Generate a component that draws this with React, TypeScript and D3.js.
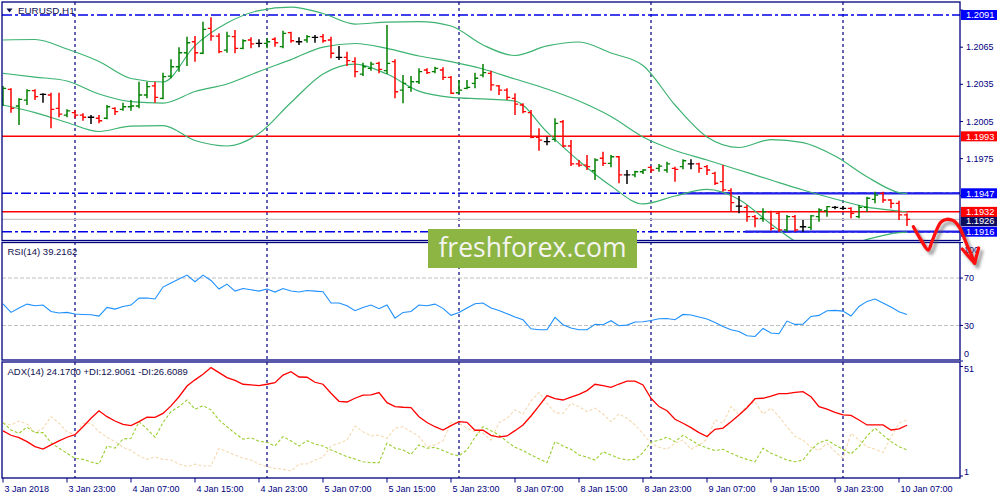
import React from 'react';
import * as d3 from 'd3';

// EURUSD H1 bars, 3 Jan 15:00 .. 10 Jan 08:00 (114 bars)
const opens = [
  1.20223, 1.2031, 1.20175, 1.20223, 1.20299, 1.20269, 1.20264, 1.20156, 1.20102, 1.20121,
  1.20102, 1.20084, 1.20076, 1.20076, 1.20156, 1.20148, 1.20169, 1.20175, 1.20264, 1.20337,
  1.20237, 1.20417, 1.20492, 1.20605, 1.20694, 1.20601, 1.20802, 1.2074, 1.20627, 1.20735,
  1.20641, 1.20708, 1.20681, 1.20681, 1.20714, 1.20654, 1.20767, 1.20694, 1.20708, 1.2073,
  1.20735, 1.20708, 1.20568, 1.20568, 1.20533, 1.20433, 1.20479, 1.2052, 1.2046, 1.20533,
  1.20304, 1.20326, 1.20371, 1.20466, 1.20452, 1.20466, 1.20407, 1.20282, 1.20318, 1.20358,
  1.20425, 1.20439, 1.20337, 1.20304, 1.20237, 1.20183, 1.20121, 1.19922, 1.19887, 1.19906,
  1.20048, 1.19852, 1.19707, 1.19698, 1.19652, 1.19753, 1.19712, 1.19765, 1.19618, 1.19618,
  1.19644, 1.1968, 1.19672, 1.19658, 1.19672, 1.19685, 1.19707, 1.19707, 1.19685, 1.19631,
  1.19564, 1.19491, 1.19367, 1.19357, 1.19281, 1.19268, 1.19321, 1.19308, 1.19174, 1.19281,
  1.192, 1.19195, 1.19281, 1.19329, 1.19357, 1.19349, 1.19349, 1.19281, 1.19357, 1.19421,
  1.1947, 1.19416, 1.19389, 1.19295,
];
const highs = [
  1.20337, 1.20318, 1.20237, 1.2031, 1.2031, 1.20278, 1.20282, 1.20282, 1.20148, 1.20143,
  1.20116, 1.20102, 1.20102, 1.20183, 1.20164, 1.20202, 1.20223, 1.20371, 1.20371, 1.20371,
  1.20444, 1.20552, 1.20649, 1.20735, 1.2074, 1.20856, 1.20891, 1.20762, 1.20775, 1.20789,
  1.20714, 1.2073, 1.20714, 1.20722, 1.2073, 1.20783, 1.20775, 1.2073, 1.20748, 1.20748,
  1.20756, 1.20735, 1.2066, 1.20614, 1.20568, 1.20525, 1.20533, 1.20533, 1.20829, 1.20552,
  1.20425, 1.20417, 1.20479, 1.20479, 1.20492, 1.20488, 1.20417, 1.20385, 1.20385, 1.20444,
  1.20514, 1.2046, 1.20345, 1.20318, 1.20278, 1.20197, 1.20143, 1.19995, 1.19927, 1.20076,
  1.20062, 1.199, 1.19739, 1.19779, 1.19753, 1.19806, 1.19779, 1.19771, 1.19658, 1.19652,
  1.19664, 1.1969, 1.19707, 1.19725, 1.19685, 1.19744, 1.19744, 1.19717, 1.19698, 1.19644,
  1.19698, 1.1951, 1.19448, 1.19375, 1.19295, 1.19349, 1.19329, 1.19321, 1.19295, 1.19295,
  1.19254, 1.19295, 1.19349, 1.19367, 1.19367, 1.19367, 1.19357, 1.19375, 1.19443, 1.19483,
  1.19483, 1.19421, 1.1941, 1.19308,
];
const lows = [
  1.20175, 1.20121, 1.20022, 1.20183, 1.20223, 1.20202, 1.19995, 1.20084, 1.20084, 1.20076,
  1.20056, 1.2003, 1.20035, 1.20068, 1.20102, 1.20137, 1.20137, 1.20156, 1.20237, 1.20202,
  1.20229, 1.20399, 1.20452, 1.20498, 1.20533, 1.20595, 1.20702, 1.20601, 1.20605, 1.20601,
  1.20633, 1.20641, 1.20649, 1.20641, 1.20654, 1.20641, 1.20686, 1.20668, 1.20686, 1.20686,
  1.20686, 1.2056, 1.20546, 1.20498, 1.20407, 1.20417, 1.2046, 1.20439, 1.20433, 1.20237,
  1.20197, 1.2029, 1.20353, 1.20433, 1.20439, 1.20385, 1.20272, 1.20272, 1.2031, 1.20318,
  1.20407, 1.20299, 1.20264, 1.20223, 1.20102, 1.20116, 1.19914, 1.19814, 1.19858, 1.19887,
  1.19841, 1.1969, 1.19685, 1.19658, 1.19577, 1.1969, 1.1968, 1.19551, 1.19545, 1.19599,
  1.19626, 1.19636, 1.19644, 1.19636, 1.19564, 1.19664, 1.19664, 1.19636, 1.19618, 1.19537,
  1.19483, 1.19321, 1.19308, 1.19241, 1.19195, 1.19241, 1.19168, 1.1916, 1.1916, 1.1916,
  1.1916, 1.19174, 1.19241, 1.19281, 1.19341, 1.19335, 1.19268, 1.19268, 1.19321, 1.19389,
  1.19394, 1.19349, 1.19254, 1.19206,
];
const closes = [
  1.20318, 1.20156, 1.20229, 1.20299, 1.2025, 1.20269, 1.20148, 1.2011, 1.20135, 1.20102,
  1.20084, 1.20084, 1.20056, 1.20169, 1.20129, 1.20169, 1.20175, 1.20264, 1.20331, 1.20245,
  1.20412, 1.20492, 1.20605, 1.20686, 1.20605, 1.20794, 1.2074, 1.20614, 1.2074, 1.20641,
  1.20702, 1.20676, 1.20681, 1.20694, 1.20686, 1.20762, 1.20702, 1.20694, 1.20735, 1.2073,
  1.20702, 1.20601, 1.20568, 1.20541, 1.20452, 1.20492, 1.20514, 1.20471, 1.2052, 1.2029,
  1.20358, 1.20371, 1.20452, 1.20444, 1.20479, 1.20407, 1.20278, 1.20304, 1.20326, 1.20399,
  1.20444, 1.20345, 1.20304, 1.20245, 1.20191, 1.20129, 1.19922, 1.199, 1.19887, 1.20035,
  1.19852, 1.19707, 1.19698, 1.19685, 1.19739, 1.19712, 1.19765, 1.19618, 1.19618, 1.19644,
  1.19658, 1.19658, 1.1969, 1.19707, 1.19664, 1.19733, 1.19707, 1.19672, 1.19658, 1.19551,
  1.19497, 1.19394, 1.19367, 1.19281, 1.19268, 1.19321, 1.19187, 1.19174, 1.19281, 1.19174,
  1.192, 1.19287, 1.19335, 1.19362, 1.19357, 1.19349, 1.19308, 1.19357, 1.1943, 1.19456,
  1.19416, 1.19389, 1.19295, 1.1926,
];

// Bollinger bands, read every 4 bars
const bandIdx = [0, 4, 8, 12, 16, 20, 24, 28, 32, 36, 40, 44, 48, 52, 56, 60, 64, 68, 72, 76, 80, 84, 88, 92, 96, 100, 104, 108, 112, 113];
const upperBand = [
  1.20708, 1.20712, 1.20635, 1.20534, 1.20397, 1.20369, 1.20663, 1.20845, 1.20946, 1.20974,
  1.20922, 1.20837, 1.20853, 1.20857, 1.20821, 1.20668, 1.20583, 1.2066, 1.20692, 1.20603,
  1.20502, 1.20183, 1.19925, 1.1984, 1.19904, 1.19879, 1.19771, 1.19604, 1.19476, 1.19468,
];
const middleBand = [
  1.20439, 1.20409, 1.20377, 1.20272, 1.20211, 1.20199, 1.20292, 1.20353, 1.20454, 1.2055,
  1.20651, 1.2068, 1.20641, 1.20579, 1.20534, 1.20474, 1.20393, 1.20312, 1.20215, 1.2009,
  1.19925, 1.19816, 1.19739, 1.19658, 1.19577, 1.19497, 1.19424, 1.19359, 1.19327, 1.19319,
];
const lowerBand = [
  1.20183, 1.20122, 1.20042, 1.19969, 1.20013, 1.20016, 1.19896, 1.19852, 1.19953, 1.20203,
  1.20433, 1.20513, 1.20433, 1.20295, 1.20245, 1.20232, 1.20215, 1.19965, 1.19731, 1.19529,
  1.19384, 1.19448, 1.19501, 1.1942, 1.19222, 1.19052, 1.19012, 1.19098, 1.19153, 1.19157,
];

const rsi = [
  48.3, 41, 44.7, 48, 46.6, 47.2, 41.8, 40.5, 41, 39.6,
  39.3, 39, 37.9, 45.2, 43.8, 46, 47.2, 53.1, 53.1, 52.3,
  62.4, 65.8, 69.2, 72.5, 66.9, 72.5, 68, 60.7, 64.9, 59,
  61.2, 60.1, 59, 60.7, 58.2, 61.2, 59, 58.2, 59.5, 59,
  58.4, 48.9, 48.9, 46.6, 42.4, 45.2, 47.2, 44.1, 47.2, 36.2,
  41, 41.8, 47.2, 46.6, 48, 44.4, 38.5, 41, 44.7, 48.3,
  48.9, 44.7, 42.7, 39.9, 37.1, 34.8, 27.2, 26.4, 26.4, 36.8,
  30.6, 27.8, 26.4, 26.4, 30.9, 30.6, 34, 29.7, 30.3, 32.9,
  33.1, 34.2, 35.7, 35.9, 34.8, 39.3, 38.8, 37.1, 35.4, 32.5,
  29.2, 26.4, 24.9, 21.3, 20.7, 27.5, 23.6, 23, 33.7, 30.9,
  31.1, 37.6, 38.5, 42.4, 42.7, 42.1, 37.9, 46, 50.3, 52.3,
  48.9, 45.5, 41.6, 39.2,
];

const adx = [
  21.6, 19.6, 18.5, 16.7, 14.4, 13.3, 15.2, 17, 18.7, 19.9,
  23.5, 27.4, 30.8, 28.1, 26.1, 24.6, 24, 25.8, 27.9, 27.8,
  29.6, 33, 37.2, 42.1, 44.9, 47.5, 50.5, 48.2, 45.9, 44.7,
  42.9, 42.6, 42.3, 42.9, 43.6, 47.1, 48.6, 46.2, 46.1, 43.8,
  42.9, 38.8, 35.1, 34.8, 36.5, 37.9, 38, 39.1, 34.5, 32.7,
  32.4, 32.2, 28.1, 25.4, 23.5, 22, 24, 25.8, 25.5, 21.9,
  21.9, 19.6, 18.8, 19.3, 21.7, 24.3, 28.4, 33, 37.7, 36.3,
  35.7, 37, 38.3, 40, 42.9, 42.3, 41.5, 43, 44.3, 44.3,
  42.6, 36.5, 32.7, 30.8, 26.9, 25.1, 23.1, 20.8, 19, 22.3,
  22.9, 25.8, 28.9, 32.2, 36.3, 36.5, 37.5, 38.6, 38.6, 39.2,
  39.5, 37.2, 32.7, 31.5, 30.1, 28.9, 28.7, 26.6, 24.3, 24.3,
  24.3, 22, 22.5, 24.17,
];
const plusDi = [
  25.4, 22, 20.5, 23.3, 20.8, 20.8, 16.2, 13.7, 11.4, 9.1,
  8.6, 7.4, 6.5, 14.7, 13.7, 17.9, 18.2, 25.8, 22.5, 18.7,
  25.4, 30.4, 32.7, 35.7, 31.5, 33.1, 31.2, 26.6, 23.5, 20.5,
  17.8, 18.5, 16.9, 16.4, 14.7, 19, 17, 14.7, 17.1, 15.6,
  14.7, 12.9, 11.4, 9.8, 8.8, 7.5, 7.1, 7.1, 16, 13.7,
  12.9, 10.9, 15.2, 13.7, 14.1, 12.6, 11.1, 10.2, 12.9, 18.7,
  23.5, 21.7, 19.7, 16.7, 14.1, 12.6, 10.6, 8.9, 7.1, 16.7,
  14.7, 13.2, 10.6, 9.6, 8.3, 12.1, 10.6, 9.1, 8.3, 8.6,
  11.7, 16.5, 17.4, 18.7, 16.7, 19.6, 17.4, 15.2, 13.8, 12.6,
  13.2, 11.4, 9.8, 8.6, 7.5, 13.7, 11.4, 9.8, 8.3, 7.5,
  8.3, 12.9, 16.2, 17.4, 15.2, 13.2, 11.1, 14.4, 19.3, 22.8,
  19.7, 16.7, 14.4, 12.9,
];
const minusDi = [
  25.1, 24.3, 26.1, 24.8, 20.8, 22.8, 28.1, 25.1, 21.2, 19.7,
  25.1, 25.1, 21.2, 18.7, 16.7, 14.1, 12.6, 10.2, 8.6, 9.8,
  8.6, 8.3, 6.5, 5.3, 6.4, 5.6, 5.6, 13.7, 12.1, 10.6,
  9.1, 8.3, 6.5, 5.3, 4.5, 4.1, 3.3, 6.4, 6.5, 8.3,
  9.6, 14.7, 16, 17.4, 23.8, 21.2, 19.3, 19.7, 18.2, 22.8,
  23.5, 21.2, 19, 14.4, 15.2, 17.1, 25.5, 25.1, 22.8, 21.2,
  20.5, 17.4, 25.4, 27.4, 31.2, 29.3, 35.3, 39.2, 34.2, 29.9,
  29.6, 34.2, 32.7, 30.4, 32, 29.3, 25.8, 29.3, 27.4, 24.3,
  20.2, 16, 14.1, 13.2, 16, 17.4, 13.2, 15.2, 17.8, 26.6,
  25.1, 32.7, 28.9, 33, 34.9, 29.3, 32, 28.1, 23.5, 19,
  17.4, 14.1, 12.6, 16, 12.1, 9.1, 20.5, 17.4, 14.4, 13.2,
  11.7, 18.7, 25.1, 26.6,
];

const timeLabelIdx = [0, 8, 16, 24, 32, 40, 48, 56, 64, 72, 80, 88, 96, 104, 112];
const timeLabels = [
  '3 Jan 2018', '3 Jan 23:00', '4 Jan 07:00', '4 Jan 15:00', '4 Jan 23:00',
  '5 Jan 07:00', '5 Jan 15:00', '5 Jan 23:00', '8 Jan 07:00', '8 Jan 15:00',
  '8 Jan 23:00', '9 Jan 07:00', '9 Jan 15:00', '9 Jan 23:00', '10 Jan 07:00',
];
const daySeparators = [9, 33, 57, 81, 105];

const priceTicks = [1.2095, 1.2065, 1.2035, 1.2005, 1.1975, 1.1945, 1.1915];
const rsiTicks = [100, 70, 30, 0];
const rsiLevels = [70, 30];
const adxTicks = [51, 1];

const blueLevels = [1.2091, 1.1947, 1.1916];
const redLevels = [1.1993, 1.1932];
const bidPrice = 1.1926;
const zonePrices = [1.1947, 1.1916];
const zoneStart = [84.4, 92.75];

// hand drawn forecast arrow, [bar index, price]
const arrowPath: [number, number][] = [
  [113.8, 1.192], [114.75, 1.19093], [115.66, 1.19012], [116.1, 1.19077], [116.7, 1.19174],
  [117.25, 1.19238], [117.96, 1.1926], [118.6, 1.19254], [119, 1.19241], [119.6, 1.1919],
  [120, 1.19133], [120.5, 1.19052], [120.9, 1.18996], [121.45, 1.18905],
];
const arrowHead: [number, number][] = [[119.9, 1.1902], [121.45, 1.18905], [121.95, 1.19028]];

const W = 1000;
const H = 500;
const L = 2;
const R = 960;
const mainPane = { top: 2, bottom: 240.5 };
const rsiPane = { top: 242.5, bottom: 360 };
const adxPane = { top: 362, bottom: 478 };

const x = d3.scaleLinear().domain([0, 113]).range([3, 907]);
const yPrice = d3.scaleLinear().domain([1.2091, 1.1947]).range([15, 193.3]);
const yRsi = d3.scaleLinear().domain([0, 100]).range([361, 242.5]);
const yAdx = d3.scaleLinear().domain([1, 51]).range([476, 366.5]);

const NAVY = '#000080';
const AXIS_FONT = '"Liberation Sans", Arial, sans-serif';

function clampLabel(y: number, pane: { top: number; bottom: number }) {
  return Math.max(pane.top + 7, Math.min(pane.bottom - 6, y));
}

export default function App() {
  const bandLine = (vals: number[]) =>
    d3
      .line<number>()
      .x((_, k) => x(bandIdx[k]))
      .y((d) => yPrice(d))
      .curve(d3.curveMonotoneX)(vals) ?? '';
  const rsiPath = d3.line<number>().x((_, i) => x(i)).y((d) => yRsi(d))(rsi) ?? '';
  const adxLine = (vals: number[]) =>
    d3.line<number>().x((_, i) => x(i)).y((d) => yAdx(d))(vals) ?? '';
  const arrowLine = d3
    .line<[number, number]>()
    .x((d) => x(d[0]))
    .y((d) => yPrice(d[1]))
    .curve(d3.curveCatmullRom.alpha(0.5));
  const headLine = d3
    .line<[number, number]>()
    .x((d) => x(d[0]))
    .y((d) => yPrice(d[1]));

  const levelBoxes = [
    { price: 1.2091, fill: '#0000ff', dy: 0 },
    { price: 1.1993, fill: '#ff0000', dy: 0 },
    { price: 1.1947, fill: '#0000ff', dy: 0 },
    { price: bidPrice, fill: '#0c0c5c', dy: 1.8 },
    { price: 1.1932, fill: '#ff0000', dy: 0 },
    { price: 1.1916, fill: '#0000ff', dy: 0 },
  ];
  // scale labels hidden under a highlighted level box are not drawn (as in the terminal)
  const priceLabels = priceTicks
    .map((p) => ({ p, y: Math.max(yPrice(p), 6) }))
    .filter((t) => levelBoxes.every((b) => Math.abs(yPrice(b.price) - t.y) > 7));

  return (
    <svg
      width={W}
      height={H}
      viewBox={`0 0 ${W} ${H}`}
      style={{ position: 'fixed', left: 0, top: 0, background: '#fff' }}
    >
      <defs>
        <clipPath id="clipMain">
          <rect x={L} y={mainPane.top} width={R - L} height={mainPane.bottom - mainPane.top} />
        </clipPath>
        <clipPath id="clipRsi">
          <rect x={L} y={rsiPane.top} width={R - L} height={rsiPane.bottom - rsiPane.top} />
        </clipPath>
        <clipPath id="clipAdx">
          <rect x={L} y={adxPane.top} width={R - L} height={adxPane.bottom - adxPane.top} />
        </clipPath>
        <filter id="soft" x="-20%" y="-50%" width="140%" height="200%">
          <feGaussianBlur stdDeviation="1.4" />
        </filter>
      </defs>
      <rect width={W} height={H} fill="#fff" />

      {/* day separators */}
      {daySeparators.map((d) => (
        <line
          key={d}
          x1={x(d)}
          x2={x(d)}
          y1={mainPane.top}
          y2={adxPane.bottom}
          stroke={NAVY}
          strokeWidth={1.2}
          strokeDasharray="3,3"
        />
      ))}

      {/* main pane */}
      <g clipPath="url(#clipMain)">
        <line x1={L} x2={R} y1={yPrice(bidPrice)} y2={yPrice(bidPrice)} stroke="#c8c8c8" strokeWidth={1.2} />
        {redLevels.map((p) => (
          <line key={p} x1={L} x2={R} y1={yPrice(p)} y2={yPrice(p)} stroke="#ff0000" strokeWidth={1.5} />
        ))}
        {blueLevels.map((p) => (
          <line
            key={p}
            x1={L}
            x2={R}
            y1={yPrice(p)}
            y2={yPrice(p)}
            stroke="#0000e6"
            strokeWidth={1.5}
            strokeDasharray="10,3,3,3"
          />
        ))}
        {zonePrices.map((p, k) => (
          <g key={p}>
            <line
              x1={x(zoneStart[k])}
              x2={R}
              y1={yPrice(p) + 3}
              y2={yPrice(p) + 3}
              stroke="#9a9aa8"
              strokeWidth={3}
              filter="url(#soft)"
              opacity={0.8}
            />
            <line x1={x(zoneStart[k])} x2={R} y1={yPrice(p)} y2={yPrice(p)} stroke="#1f1fe8" strokeWidth={2.2} />
          </g>
        ))}
        {[upperBand, middleBand, lowerBand].map((b, k) => (
          <path key={k} d={bandLine(b)} fill="none" stroke="#3cb371" strokeWidth={1.2} />
        ))}
        {closes.map((c, i) => {
          const o = opens[i];
          const color = c > o ? '#008000' : c < o ? '#ff0000' : '#000000';
          const xi = x(i);
          return (
            <g key={i} stroke={color} fill="none">
              <path d={`M${xi},${yPrice(highs[i])}V${yPrice(lows[i])}`} strokeWidth={1.5} />
              <path d={`M${xi - 3.2},${yPrice(o)}H${xi}M${xi},${yPrice(c)}H${xi + 3.2}`} strokeWidth={1.3} />
            </g>
          );
        })}
      </g>
      <polygon points="6.5,8.5 12.5,8.5 9.5,12.5" fill="#101050" />
      <text x={18} y={14.2} fontFamily={AXIS_FONT} fontSize={9.8} fill="#101050">
        EURUSD,H1
      </text>

      {/* RSI pane */}
      <g clipPath="url(#clipRsi)">
        {rsiLevels.map((v) => (
          <line key={v} x1={L} x2={R} y1={yRsi(v)} y2={yRsi(v)} stroke="#c0c0c0" strokeWidth={1.1} strokeDasharray="4,2" />
        ))}
        <path d={rsiPath} fill="none" stroke="#1e90ff" strokeWidth={1.1} />
      </g>
      <text x={7.5} y={255} fontFamily={AXIS_FONT} fontSize={9.5} fill="#101050">
        RSI(14) 39.2162
      </text>

      {/* ADX pane */}
      <g clipPath="url(#clipAdx)">
        <path d={adxLine(minusDi)} fill="none" stroke="#f5d9b0" strokeWidth={1.1} strokeDasharray="3,2" />
        <path d={adxLine(plusDi)} fill="none" stroke="#9acd32" strokeWidth={1.1} strokeDasharray="3,2" />
        <path d={adxLine(adx)} fill="none" stroke="#ff0000" strokeWidth={1.3} />
      </g>
      <text x={7.5} y={375} fontFamily={AXIS_FONT} fontSize={9.5} fill="#101050">
        ADX(14) 24.1700 +DI:12.9061 -DI:26.6089
      </text>

      {/* pane frames */}
      {[mainPane, rsiPane, adxPane].map((p, k) => (
        <rect key={k} x={L} y={p.top} width={R - L} height={p.bottom - p.top} fill="none" stroke={NAVY} strokeWidth={1.3} />
      ))}

      {/* price axis */}
      {priceTicks.map((p) => (
        <line key={p} x1={R} x2={R + 3} y1={yPrice(p)} y2={yPrice(p)} stroke={NAVY} />
      ))}
      {priceLabels.map((t) => (
        <text key={t.p} x={966} y={t.y} dy="0.35em" fontFamily={AXIS_FONT} fontSize={9} fill={NAVY}>
          {t.p.toFixed(4)}
        </text>
      ))}
      {levelBoxes.map((b) => {
        const yc = yPrice(b.price) + b.dy;
        return (
          <g key={b.price}>
            <rect x={961} y={yc - 5} width={36} height={10} fill={b.fill} />
            <text x={966} y={yc} dy="0.36em" fontFamily={AXIS_FONT} fontSize={9.3} fill="#fff">
              {b.price.toFixed(4)}
            </text>
          </g>
        );
      })}

      {/* RSI axis */}
      {rsiTicks.map((v) => (
        <g key={v}>
          <line x1={R} x2={R + 3} y1={yRsi(v)} y2={yRsi(v)} stroke={NAVY} />
          <text x={964} y={clampLabel(yRsi(v), rsiPane)} dy="0.35em" fontFamily={AXIS_FONT} fontSize={9} fill={NAVY}>
            {v}
          </text>
        </g>
      ))}

      {/* ADX axis */}
      {adxTicks.map((v) => (
        <g key={v}>
          <line x1={R} x2={R + 3} y1={yAdx(v)} y2={yAdx(v)} stroke={NAVY} />
          <text x={964} y={clampLabel(yAdx(v), adxPane)} dy="0.35em" fontFamily={AXIS_FONT} fontSize={9} fill={NAVY}>
            {v}
          </text>
        </g>
      ))}

      {/* time axis */}
      {timeLabelIdx.map((idx, k) => (
        <g key={idx}>
          <line x1={x(idx)} x2={x(idx)} y1={adxPane.bottom} y2={adxPane.bottom + 4.5} stroke={NAVY} />
          <text x={x(idx) + 1.5} y={491.5} fontFamily={AXIS_FONT} fontSize={9} fill={NAVY}>
            {timeLabels[k]}
          </text>
        </g>
      ))}

      {/* watermark */}
      <rect x={428} y={229} width={209} height={39} fill="#8db543" />
      <text
        x={532.5}
        y={257}
        textAnchor="middle"
        fontFamily='"Open Sans", "Noto Sans", sans-serif'
        fontSize={26.5}
        fill="#f4f4f0"
      >
        freshforex.com
      </text>

      {/* forecast arrow */}
      <g transform="translate(3,3.5)" filter="url(#soft)" opacity={0.55}>
        <path d={arrowLine(arrowPath) ?? ''} fill="none" stroke="#555" strokeWidth={3.5} strokeLinecap="round" strokeLinejoin="round" />
        <path d={headLine(arrowHead) ?? ''} fill="none" stroke="#555" strokeWidth={3.5} strokeLinecap="round" strokeLinejoin="round" />
      </g>
      <path d={arrowLine(arrowPath) ?? ''} fill="none" stroke="#ff1010" strokeWidth={3.3} strokeLinecap="round" strokeLinejoin="round" />
      <path d={headLine(arrowHead) ?? ''} fill="none" stroke="#ff1010" strokeWidth={3.3} strokeLinecap="round" strokeLinejoin="round" />
    </svg>
  );
}
